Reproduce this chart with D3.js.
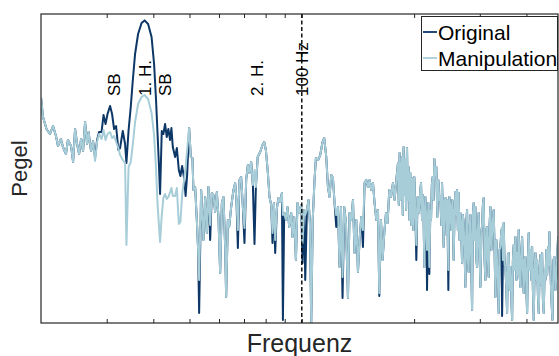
<!DOCTYPE html>
<html>
<head>
<meta charset="utf-8">
<script src="https://cdn.jsdelivr.net/npm/d3@7"></script>
<style>
  html, body { margin: 0; padding: 0; background: #fff; }
  svg { display: block; font-family: "Liberation Sans", Arial, sans-serif; }
</style>
</head>
<body>
<div id="chart"></div>
<script>
// Tiefer Frequenzbereich: hier unterscheiden sich Original und Manipulation
const freqLow = [20.00, 20.25, 20.69, 21.14, 21.54, 21.94, 22.21, 22.62, 22.90, 23.33, 23.62, 24.08, 24.38, 24.68, 24.99,
  25.30, 25.61, 25.93, 26.25, 26.58, 26.82, 27.24, 27.58, 27.92, 28.27, 28.62, 29.06, 29.42, 29.79, 30.15,
  30.63, 31.01, 31.40, 31.79, 32.24, 32.58, 33.13, 33.60, 33.88, 34.34, 34.80, 35.23, 35.74, 36.41, 37.20,
  37.90, 38.73, 39.57, 40.19, 40.69, 41.07, 41.41, 41.70, 42.14, 42.56, 43.01, 43.46, 43.89, 44.37, 44.73,
  45.11, 45.76, 46.25, 46.82, 47.28, 47.78, 48.37, 48.82, 49.28, 49.89];
const pegelManipLow = [-20.75, -25.75, -28.75, -30, -28, -30.5, -33, -31.25, -33.25, -35, -31.5, -33, -37, -28.75, -32.5,
  -35, -31.25, -34.25, -27, -32.5, -29.5, -34.25, -31.75, -36.75, -32, -30, -31.25, -29, -31.5, -30,
  -29.5, -31, -30.5, -32, -33.5, -35.25, -36.5, -37.25, -57.75, -38.25, -37, -32.75, -27, -22.5, -20.75,
  -20.25, -21.25, -24.75, -30.25, -39, -47.75, -52.75, -57, -50.25, -46, -45, -46.25, -45.75, -44.5, -43.5,
  -45.5, -45.5, -43.5, -52.5, -52, -45.25, -41.5, -38.25, -34, -28.5];
const pegelOrigLow = [-20.75, -25.75, -28.75, -30, -28, -30.5, -33, -31.25, -33.25, -35, -31.5, -33, -37, -28.75, -32.5,
  -35, -31.25, -34.25, -27, -32.5, -29.5, -34.25, -31.75, -36, -31.5, -29.5, -29.5, -25.25, -27.5, -25,
  -23, -25, -28.75, -28, -34, -33.5, -29.25, -32.5, -37.25, -29, -23.25, -16.75, -10, -5, -2.25,
  -1.6, -2.5, -5.75, -12.5, -21.75, -30.25, -37.75, -45, -29.25, -30, -27.5, -30.75, -28.75, -31.5, -28.5,
  -33.25, -35.75, -33.5, -39, -40.5, -38, -41, -45.5, -40.25, -28.5];

// Oberer Bereich: beide Kurven nahezu identisch
const freqHigh = [50.42, 50.92, 51.23, 51.78, 52.32, 52.74, 53.07, 53.73, 54.50, 55.08, 55.66, 56.21, 56.80, 57.40, 57.97,
  58.58, 59.20, 59.79, 60.42, 61.06, 61.66, 62.32, 62.70, 63.36, 63.88, 64.67, 65.59, 66.29, 66.82, 67.40,
  68.07, 68.78, 69.51, 70.20, 70.94, 71.69, 72.40, 73.17, 73.94, 74.68, 75.32, 76.17, 77.35, 78.46, 79.28,
  80.12, 81.12, 81.92, 82.79, 83.46, 84.18, 84.86, 85.76, 86.61, 87.52, 88.45, 88.99, 89.71, 90.65, 91.55,
  92.53, 93.68, 94.43, 95.43, 96.43, 97.39, 98.43, 99.64, 100.45, 101.51, 102.14, 103.22, 104.24, 105.15, 105.99,
  106.98, 108.17, 109.11, 110.67, 112.05, 113.65, 114.85, 116.29, 117.51, 118.67, 119.93, 121.19, 122.40, 123.69, 124.99,
  126.23, 127.33, 128.59, 129.95, 131.32, 132.95, 134.27, 135.70, 137.13, 138.49, 139.96, 141.43, 142.83, 144.34, 145.86,
  147.31, 148.87, 150.44, 151.93, 153.54, 155.15, 156.69, 158.36, 160.02, 161.32, 163.01, 164.63, 166.37, 168.12, 169.79,
  171.59, 173.39, 175.55, 177.29, 179.18, 181.06, 181.96, 182.86, 183.99, 185.60, 186.51, 187.43, 188.48, 189.42, 190.33,
  191.42, 192.36, 193.31, 194.39, 195.35, 196.56, 197.77, 199.00, 200.23, 201.48, 202.73, 204.36, 206.13, 207.80, 208.70,
  210.01, 211.04, 212.08, 213.00, 214.32, 215.65, 216.59, 218.32, 219.69, 221.04, 221.99, 223.10, 224.20, 225.48, 226.57,
  227.98, 229.40, 230.81, 232.22, 233.69, 235.12, 236.58, 237.61, 238.79, 239.96, 241.45, 242.93, 244.45, 245.51, 247.02,
  248.57, 250.10, 251.65, 253.20, 255.25, 256.68, 257.95, 259.55, 260.68, 261.95, 263.25, 264.73, 266.04, 267.69, 268.86,
  270.19, 271.52, 273.04, 274.40, 276.10, 277.29, 278.65, 280.03, 281.60, 282.99, 284.40, 285.99, 287.40, 288.82, 290.43,
  291.88, 293.69, 294.96, 296.40, 297.88, 299.54, 301.02, 302.89, 304.21, 305.72, 307.22, 308.94, 310.47, 312.40, 313.75,
  315.29, 316.85, 318.63, 320.19, 322.18, 323.58, 325.18, 326.79, 328.61, 330.24, 332.29, 333.73, 335.37, 337.03, 338.92,
  340.59, 342.70, 344.20, 345.90, 347.61, 349.55, 351.28, 353.46, 355.00, 356.73, 358.51, 360.51, 362.29, 364.54, 366.13,
  367.94, 369.75, 371.82, 373.67, 375.98, 377.61, 379.46, 381.35, 383.48, 385.37, 387.76, 389.45, 391.38, 393.31, 395.50,
  397.47, 399.94, 401.67, 403.64, 405.64, 407.91, 409.93, 412.47, 414.28, 416.32, 418.37, 420.71, 422.80, 425.43, 427.27,
  429.36, 431.49, 433.91, 436.04, 438.74, 440.66, 442.84, 445.02, 447.51, 449.73, 452.52, 454.48, 457.28, 458.98, 460.98,
  463.82, 466.70, 469.57, 472.49, 475.42, 478.38, 481.35, 484.32, 486.41, 488.82];
const pegelHigh = [-35.75, -36, -44, -43.25, -51.5, -59, -66.5, -44, -56.5, -45.75, -54.75, -43.25, -52.75, -44.75, -45.25,
  -49.5, -44.5, -50.75, -64.75, -47.25, -45.75, -58.25, -70.75, -51.5, -53.25, -48.25, -44, -42.25, -46.5, -54,
  -41.5, -40.75, -48.25, -53.5, -41.5, -37.75, -39.75, -37, -42.75, -39, -43.25, -35.75, -34.5, -32.75, -32,
  -34, -39.75, -45.75, -47.75, -54.75, -47.25, -56.5, -48.5, -46, -47, -44.75, -50.25, -49.75, -51.5, -48.25,
  -53.25, -49.75, -55.75, -50.75, -61.5, -47.25, -49.75, -47.75, -57.25, -49, -50.25, -49, -46.5, -52.25, -77.25,
  -51.5, -41.5, -36, -36.5, -35.25, -32, -31, -35.75, -43.25, -45.75, -40.25, -41, -47.25, -50.25, -48.25,
  -63.25, -48.25, -65.75, -48.25, -52.25, -71, -49.75, -51.5, -46.5, -59.75, -51.5, -64.5, -56.5, -50.75, -54,
  -42.25, -41.5, -43.25, -41.5, -44, -42.25, -47.25, -51.5, -49, -69.75, -51.5, -61.5, -54.75, -49.75, -52.25,
  -44, -45.75, -42.25, -46.5, -41.5, -37.25, -47.75, -34.75, -46.5, -35.75, -50.25, -33.25, -45.25, -36.5, -49,
  -33.5, -46.5, -38.25, -51.5, -39.75, -52.75, -41, -54, -40.75, -49, -57.75, -45.75, -49.75, -44, -42.25,
  -51.5, -45.25, -51.5, -63.25, -45.75, -51.5, -59, -47.25, -63.25, -49, -51.5, -42.75, -40.75, -46.5, -36.25,
  -40.25, -38.25, -50.75, -41.5, -46.5, -45.75, -52.75, -42.25, -49, -58.25, -46.5, -46, -55.25, -46.5, -64,
  -45.75, -48.25, -54, -46.5, -61.5, -49, -44.5, -50.25, -44, -54, -44.75, -56.5, -49.75, -55.25, -62.25,
  -50.25, -52.25, -59, -68.25, -51.5, -49, -61.5, -64.5, -54, -50.25, -61.5, -74, -50.25, -47.25, -56.5,
  -48.25, -61.5, -63.25, -54, -49.75, -59, -68.25, -54.75, -52.75, -47.75, -46, -61.5, -66.5, -54, -53.25,
  -61.5, -65.75, -52.75, -48.25, -59, -54.75, -51.5, -49, -59, -70.75, -56.5, -62.25, -66.5, -74.75, -59,
  -58.25, -54, -53.25, -61.5, -52.25, -62.75, -63.25, -69, -74.75, -60.25, -59.75, -69, -63.25, -71.5, -76.5,
  -61.5, -57.75, -64, -55.75, -66.5, -59.75, -65.25, -54, -65.25, -68.25, -59, -55.75, -64, -69.75, -61.5,
  -60.75, -69, -74.75, -61.5, -54.75, -64, -59, -66.5, -58.25, -69, -76.5, -62.75, -59.75, -66.5, -61.5,
  -70.25, -74.75, -64, -60.25, -67.75, -59.75, -71.5, -74.75, -64, -66.5, -59, -65.25, -58.25, -62.75, -54.5,
  -64, -71.5, -76.5, -61.5, -60.75, -69, -65.25, -59, -55.75, -61.5];

// Einbrüche, in denen nur das Original tiefer reicht
const origDips = [[53.07, -74.75], [56.80, -56.5], [67.40, -58.5], [70.20, -57.25], [74.68, -57.5],
  [83.46, -57.25], [84.86, -59.75], [88.99, -76.5], [100.45, -62.25], [102.14, -66.5], [123.69, -53.25],
  [128.59, -71], [145.86, -58.25], [161.32, -70.5], [202.73, -61.5], [216.59, -69], [219.69, -65],
  [247.02, -69], [344.20, -75.5]];

const xTicks = [30, 40, 50, 60, 70, 80, 90, 100, 200, 300, 400];
const annotations = [
  { label: "SB", f: 31.3 },
  { label: "1. H.", f: 37.9 },
  { label: "SB", f: 43.0 },
  { label: "2. H.", f: 75.8 },
  { label: "100 Hz", f: 100 }
];
const seriesNames = ["Original", "Manipulation"];
const colors = ["#0c3766", "#a7cdd8"];

// Reihen zusammensetzen
const dipMap = new Map(origDips.map(d => [d[0], d[1]]));
const manip = freqLow.map((f, i) => ({ f, v: pegelManipLow[i] }))
  .concat(freqHigh.map((f, i) => ({ f, v: pegelHigh[i] })));
const orig = freqLow.map((f, i) => ({ f, v: pegelOrigLow[i] }))
  .concat(freqHigh.map((f, i) => ({ f, v: dipMap.has(f) ? dipMap.get(f) : pegelHigh[i] })));

const width = 559, height = 356;
const plotL = 41, plotR = 558, plotT = 14, plotB = 323;

const svg = d3.select("#chart").append("svg")
  .attr("width", width)
  .attr("height", height);

const x = d3.scaleLog().domain([20, 486]).range([plotL, plotR]);
const y = d3.scaleLinear().domain([-77.25, 0]).range([plotB, plotT]);

svg.append("clipPath").attr("id", "clip")
  .append("rect").attr("x", plotL).attr("y", plotT).attr("width", plotR - plotL).attr("height", plotB - plotT);

const line = d3.line().x(d => x(d.f)).y(d => y(d.v));

const plot = svg.append("g").attr("clip-path", "url(#clip)");
[orig, manip].forEach((data, i) => {
  plot.append("path")
    .datum(data)
    .attr("fill", "none")
    .attr("stroke", colors[i])
    .attr("stroke-width", 2)
    .attr("stroke-linejoin", "round")
    .attr("d", line);
});

// 100-Hz-Markierung
svg.append("line")
  .attr("x1", x(100)).attr("x2", x(100))
  .attr("y1", plotT).attr("y2", plotB)
  .attr("stroke", "#000")
  .attr("stroke-width", 1.4)
  .attr("stroke-dasharray", "4,2.5");

// senkrechte Beschriftungen
svg.append("g")
  .selectAll("text")
  .data(annotations)
  .join("text")
  .attr("transform", d => `translate(${x(d.f)},96) rotate(-90)`)
  .attr("dy", "0.35em")
  .attr("font-size", 17)
  .attr("fill", "#000")
  .text(d => d.label);

// Achsen: nur Striche, keine Zahlen
const tickColor = "#262626";
svg.append("g")
  .attr("transform", `translate(0,${plotB})`)
  .call(d3.axisBottom(x).tickValues(xTicks).tickSize(-4).tickFormat(""))
  .call(g => g.select(".domain").remove())
  .call(g => g.selectAll("line").attr("stroke", tickColor));
svg.append("g")
  .attr("transform", `translate(0,${plotT})`)
  .call(d3.axisTop(x).tickValues(xTicks).tickSize(-4).tickFormat(""))
  .call(g => g.select(".domain").remove())
  .call(g => g.selectAll("line").attr("stroke", tickColor));

svg.append("rect")
  .attr("x", plotL).attr("y", plotT)
  .attr("width", plotR - plotL).attr("height", plotB - plotT)
  .attr("fill", "none")
  .attr("stroke", tickColor)
  .attr("stroke-width", 1.2);

svg.append("text")
  .attr("x", (plotL + plotR) / 2)
  .attr("y", 352)
  .attr("text-anchor", "middle")
  .attr("font-size", 25)
  .attr("fill", "#262626")
  .text("Frequenz");

svg.append("text")
  .attr("transform", `translate(27,${(plotT + plotB) / 2}) rotate(-90)`)
  .attr("text-anchor", "middle")
  .attr("font-size", 22)
  .attr("fill", "#262626")
  .text("Pegel");

// Legende
const legend = svg.append("g");
legend.append("rect")
  .attr("x", 421.5).attr("y", 16.5)
  .attr("width", 136).attr("height", 54)
  .attr("fill", "#fff")
  .attr("stroke", "#262626")
  .attr("stroke-width", 1);
seriesNames.forEach((name, i) => {
  const yy = 32 + i * 26;
  legend.append("line")
    .attr("x1", 423).attr("x2", 437)
    .attr("y1", yy).attr("y2", yy)
    .attr("stroke", colors[i])
    .attr("stroke-width", 1.8);
  legend.append("text")
    .attr("x", 438)
    .attr("y", yy + 7.5)
    .attr("font-size", 21)
    .attr("fill", "#000")
    .text(name);
});
</script>
</body>
</html>
